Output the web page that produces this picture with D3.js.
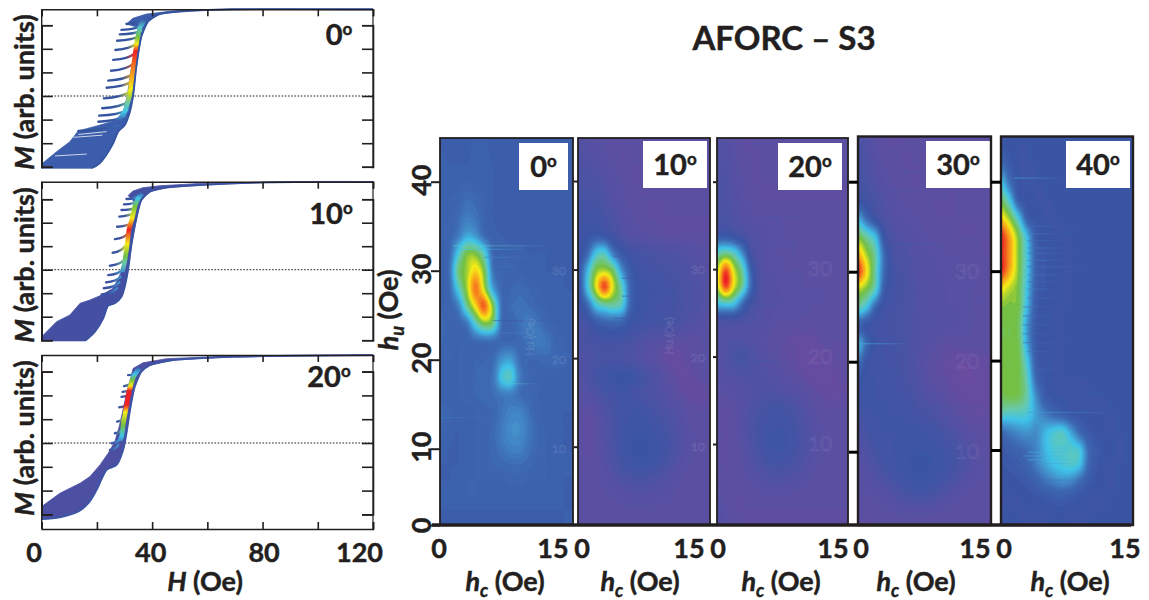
<!DOCTYPE html>
<html>
<head>
<meta charset="utf-8">
<script src="https://cdn.jsdelivr.net/npm/d3@7"></script>
<style>
  body { margin: 0; background: #fff; }
  svg { display: block; }
  text { font-family: Lato, "Open Sans", sans-serif; font-weight: 700; fill: #231f20; stroke: #231f20; stroke-width: .45; }
</style>
</head>
<body>
<script>
// ---------- data ----------

// left column: magnetisation curves, H in Oe, M in arbitrary tick units
let angleLabels = ["0", "10", "20"]
let hTicks = [0, 20, 40, 60, 80, 100, 120]
let hLabelled = [0, 40, 80, 120]
let mTicks = [-3, -2, -1, 0, 1, 2, 3]

// right edge of each band (the major branch)
let major0 = [[18,-3.06],[21,-2.85],[25.9,-2],[27.7,-1.51],[30.1,-1.23],[31.8,-.73],[33.1,0],[34.3,1.24],[36.1,2.51],[38.5,3.15],[42.7,3.47],[52.4,3.6],[69,3.67],[120,3.67]]
let major10 = [[15.7,-3.03],[19.3,-2.64],[22.3,-2.07],[24.1,-1.53],[26.5,-1.43],[28.9,-1.15],[30.1,-.72],[31.3,0],[32.5,1.05],[34.3,2.18],[36.1,2.96],[39.2,3.32],[45.2,3.49],[57.2,3.6],[81.3,3.72],[120,3.74]]
let major20 = [[0,-3.2],[6.6,-3.12],[13.3,-2.88],[16.9,-2.53],[19.9,-1.97],[23.5,-1.13],[27.1,-.92],[29.5,-.29],[30.7,.41],[32.2,1.52],[33.7,2.36],[36.1,3],[39.2,3.27],[47.6,3.48],[69.3,3.62],[120,3.69]]

// left edge of each band
let upper0 = [[0,-3.06],[0,-2.88],[5.4,-2.36],[10.2,-1.94],[13.2,-1.48],[19.9,-1.27],[26.6,-1.05],[29.5,-.7],[31,0],[32.5,1.2],[33.8,1.9],[34.8,2.5],[35,2.9],[30.7,3.05],[33,3.29],[37.9,3.47],[47.5,3.6],[69,3.71],[120,3.71]]
let upper10 = [[0,-3.03],[0,-2.85],[5.4,-2.21],[10.2,-1.93],[13.9,-1.43],[17.5,-1.29],[21.7,-1.08],[25.9,-.79],[28.6,-.16],[29.8,.48],[31,1.33],[32.9,2.38],[33.4,2.9],[31.3,3.16],[33.1,3.35],[36.7,3.49],[42.8,3.57],[57.2,3.67],[120,3.76]]
let upper20 = [[0,-2.67],[6.6,-2.11],[13.9,-1.69],[17.5,-1.41],[21.1,-.92],[24.1,-.43],[26.5,.06],[28.1,.69],[29.3,1.31],[30.7,2.08],[32.2,2.71],[33.1,3.13],[36.7,3.37],[45.2,3.54],[69.3,3.66],[120,3.71]]

// hot strip along the steep part: H, M, colour level
let ridge0 = [[28,-1,3],[30,-.7,5],[31.1,-.3,6],[31.8,0,7.5],[32.2,.3,8],[32.6,.7,8.6],[33.2,1.2,9.2],[34,1.9,10],[34.4,2.2,8],[34.8,2.5,7],[35.6,2.9,5.5],[37,3.2,3]]
let ridge10 = [[29.2,-.1,4],[30,.3,6],[30.4,.6,7],[31,1.1,8],[31.6,1.7,10],[32.8,2.2,8],[33.8,2.7,7],[35,3.05,5],[36.4,3.25,3]]
let ridge20 = [[28.4,.1,4],[29,.3,5],[29.5,.75,7],[30.3,1.3,8],[30.8,1.6,10],[31.7,2.2,10],[32.2,2.4,8],[32.8,2.65,7],[33.8,2.9,5],[35.4,3.15,3]]

// reversal branches: tip H, tip M, join H, join M
let stubs0 = [[30.7,3.05,36.1,3.22],[28.9,2.8,36.7,3.01],[28.3,2.61,36.1,2.77],[27.3,2.34,35.5,2.54],[26.7,1.95,34.3,2.23],[25.9,1.53,33.7,1.81],[25.1,1.07,33.4,1.38],[24.1,.65,32.9,.93],[23.5,.35,32.5,.61],[22.5,-.1,31.9,.18],[21.9,-.52,31.3,-.24],[20.8,-.83,31,-.59],[20.5,-1.09,30.1,-.85],[13.3,-1.48,27.7,-1.23]]
let stubs10 = [[30.7,3.01,34.9,3.11],[29.8,2.78,34.6,2.89],[28.9,2.54,33.7,2.61],[28.1,2.26,33.1,2.4],[27.3,1.83,32.2,1.97],[26.5,1.3,31.3,1.55],[25.7,.72,30.5,1.05],[24.7,.17,29.8,.41],[24.1,-.23,29.3,-.01],[23.3,-.54,28.6,-.3],[22.5,-.79,28.1,-.54],[21.7,-1.05,27.3,-.79]]
let stubs20 = [[31.3,2.85,34.1,2.9],[29.8,2.39,33.1,2.57],[29.3,2.15,32.5,2.29],[28.9,1.94,32.2,2.08],[28.1,1.5,31.3,1.66],[27.3,.9,30.5,1.17],[26.5,.41,29.8,.62],[25.3,-.01,28.6,.2],[24.7,-.29,27.7,-.08]]

// white gaps that show through the low part of the 0 deg band
let gaps0 = [[13.3,-1.63,23.5,-1.51],[11.5,-1.75,22,-1.66],[4.8,-2.54,16.3,-2.46]]

// right column: FORC maps, rows run from hu = 44 down to hu = 0 in steps of 2, columns hc = 0..15
let mapLabels = ["0", "10", "20", "30", "40"]
let huTicks = [0, 10, 20, 30, 40]
let hcLabelled = [0, 15]

let grid0 = [
[2.6,2.5,2.5,2.5,2.7,2.7,2.5,2.5,2.5,2.5,2.5,2.5,2.5,2.5,2.5,2.5],
[2.7,2.6,2.6,2.6,2.7,2.7,2.6,2.5,2.5,2.5,2.5,2.5,2.5,2.5,2.5,2.5],
[2.7,2.7,2.7,2.8,2.8,2.7,2.6,2.5,2.5,2.5,2.5,2.5,2.5,2.5,2.5,2.5],
[2.8,2.8,2.9,3.2,3.1,2.8,2.6,2.5,2.5,2.5,2.5,2.5,2.5,2.5,2.5,2.5],
[2.8,2.8,3.1,3.6,3.4,2.9,2.6,2.5,2.5,2.5,2.5,2.5,2.5,2.5,2.5,2.5],
[2.8,2.9,3.5,4.5,4.2,3.1,2.7,2.6,2.5,2.5,2.5,2.5,2.5,2.5,2.5,2.5],
[2.7,3,5.2,7,7,5.6,3,2.8,2.7,2.7,2.6,2.6,2.6,2.5,2.5,2.5],
[2.7,3.2,6.4,7.4,8.4,7,3.4,3,2.9,2.8,2.7,2.7,2.6,2.6,2.6,2.5],
[2.8,3,5.4,7.4,9.4,7.6,4.4,3,3,3.1,3,2.8,2.7,2.7,2.6,2.6],
[2.8,2.9,3.6,6.2,8.2,9.6,7,3.2,3.2,3.3,3.2,3,2.8,2.7,2.7,2.6],
[3.2,2.9,2.9,3.4,5.6,7,6.4,3.2,3,3.3,3.6,3.4,3,2.8,2.7,2.7],
[3,2.9,2.8,2.9,3,3.1,3.1,3,3,3.1,3.3,3.6,3.4,3,2.8,2.7],
[2.8,2.8,2.8,2.9,3,3,3.2,4.2,4.4,3.2,3,3,3.1,3.1,2.9,2.8],
[2.7,2.7,2.8,2.9,3,3.1,3.4,5.3,5.6,3.6,3,2.9,2.8,2.8,2.7,2.7],
[2.7,2.7,2.8,2.9,3,3.1,3.2,3.5,3.6,3.2,3,2.8,2.7,2.7,2.7,2.7],
[3.1,2.9,2.7,2.7,2.8,2.9,3,3.4,3.8,3.8,3.3,2.9,2.7,2.7,2.6,2.6],
[2.9,2.7,2.6,2.7,2.8,2.9,3.1,3.6,4,4,3.5,3,2.8,2.7,2.6,2.6],
[2.7,2.6,2.6,2.7,2.8,2.9,3.1,3.4,3.7,3.7,3.3,3,2.8,2.7,2.6,2.6],
[2.6,2.6,2.6,2.7,2.8,2.9,3,3.1,3.2,3.2,3.1,2.9,2.8,2.7,2.7,2.6],
[2.6,2.6,2.7,2.8,2.8,2.8,2.8,2.8,2.9,2.9,2.8,2.8,2.8,2.7,2.6,2.6],
[2.6,2.7,2.7,2.8,2.8,2.7,2.7,2.7,2.7,2.7,2.7,2.7,2.7,2.7,2.6,2.6],
[2.6,2.6,2.6,2.6,2.6,2.6,2.6,2.6,2.6,2.6,2.6,2.6,2.6,2.6,2.6,2.6],
[2.6,2.6,2.6,2.6,2.6,2.6,2.6,2.6,2.6,2.6,2.6,2.6,2.6,2.6,2.6,2.6]]

let grid10 = [
[.8,.6,.4,.2,0,0,0,0,0,0,0,0,0,0,0,0],
[1,.9,.7,.4,.2,0,0,0,0,0,0,0,0,0,0,0],
[1.2,1.1,1,.7,.4,.2,0,0,0,0,0,0,0,0,0,0],
[1.4,1.4,1.3,1,.6,.3,.1,0,0,0,0,0,0,0,0,0],
[1.5,1.7,1.7,1.4,1,.6,.3,.1,0,0,0,0,0,0,0,0],
[1.7,2,2.2,2,1.5,.9,.5,.3,.2,.1,0,0,0,0,0,0],
[1.8,2.8,5,5.4,3.4,2.2,1.6,1.4,1.2,1,.9,.8,.7,.5,.4,.3],
[2,4.6,7,7.4,6.6,4,2.4,1.8,1.6,1.5,1.3,1.2,1,.8,.6,.4],
[2,5,7.8,9.8,7.8,5.8,2.8,2,1.8,1.8,1.6,1.4,1.2,1,.8,.6],
[1.8,3,5.2,6,6.2,5.6,2.8,2,1.8,1.6,1.5,1.4,1.2,1,.8,.6],
[1.2,1.6,2.4,2.8,3,2.8,2,1.8,1.6,1.5,1.4,1.3,1,.7,.5,.3],
[1,1.3,1.5,1.6,1.6,1.5,1.3,1,.7,.5,.3,.2,.1,0,.2,.4],
[.8,1,1.2,1.3,1.3,1.2,1,.7,.4,.1,-.3,-.5,-.3,0,.2,.4],
[.6,1,1.5,1.8,2,2.1,2,1.6,1.2,.8,.2,-.2,-.5,-.3,0,.2],
[.4,.6,1,1.4,1.6,1.8,1.6,1.4,1.1,.9,.6,.2,-.2,-.4,-.4,-.2],
[.2,0,.3,.9,1.3,1.6,1.8,1.8,1.6,1.3,1,.7,.3,0,0,.1],
[.2,-.1,.1,.7,1.3,1.7,1.9,2,1.9,1.7,1.4,1,.5,.2,.1,.1],
[.2,-.1,.1,.6,1.2,1.7,2,2.1,2,1.9,1.6,1.1,.6,.3,.1,.1],
[.2,0,.1,.5,1,1.5,1.8,2,1.9,1.7,1.3,.8,.4,.2,.1,.1],
[.2,.1,.1,.3,.6,1,1.2,1.4,1.2,1,.7,.4,.2,.1,.1,.1],
[.1,.1,.1,.2,.3,.4,.6,.7,.6,.5,.4,.2,.1,.1,.1,.1],
[.1,.1,.1,.1,.1,.2,.2,.2,.2,.2,.1,.1,.1,.1,.1,.1],
[0,0,0,0,0,0,0,0,0,0,0,0,0,0,0,0]]

let grid20 = [
[.8,.6,.3,0,0,0,0,0,0,0,0,0,0,0,0,0],
[1,.8,.4,.1,0,0,0,0,0,0,0,0,0,0,0,0],
[1.1,.9,.5,.2,0,0,0,0,0,0,0,0,0,0,0,0],
[1.2,1,.7,.3,.1,0,0,0,0,0,0,0,0,0,0,0],
[1.3,1.2,.9,.6,.4,.2,.2,.2,.1,.1,.1,.1,.1,.1,.1,.1],
[2,2,1.6,1.2,.8,.5,.3,.3,.2,.2,.2,.2,.1,.1,.1,.1],
[5.6,6,5.4,3.6,1.1,.7,.3,.2,.2,.2,.1,.1,.1,.1,.1,0],
[7.6,9.6,7.6,5.8,2.4,.8,.4,.3,.2,.2,.2,.1,.1,.1,.1,.1],
[7.6,9.8,7.8,6,2.8,.9,.5,.4,.3,.3,.2,.2,.2,.1,.1,.1],
[5,5.4,5,3,1.4,.8,.5,.4,.4,.3,.3,.2,.2,.1,.1,.1],
[1.2,1.2,1.1,1,.8,.6,.4,.2,.2,.2,.1,.1,.1,.1,.1,.1],
[.7,.8,.8,.8,.6,.4,.2,0,-.2,-.3,-.3,-.3,-.1,0,0,0],
[.5,.8,1.3,1.5,1,.6,.3,.1,-.2,-.4,-.6,-.6,-.5,-.3,-.1,0],
[.4,.6,.8,.9,.9,.9,.7,.5,.2,0,-.3,-.5,-.6,-.5,-.3,-.1],
[.3,.3,.4,.6,.8,.9,1,.9,.7,.5,.2,-.1,-.3,-.4,-.4,-.3],
[.1,-.1,.1,.5,1,1.3,1.5,1.6,1.4,1.1,.7,.3,0,0,0,0],
[.1,-.2,0,.5,1.1,1.5,1.7,1.8,1.7,1.4,1,.5,.2,.1,.1,.1],
[.1,-.2,0,.4,1,1.5,1.8,1.9,1.8,1.5,1,.6,.3,.1,.1,.1],
[.1,-.1,0,.3,.8,1.2,1.5,1.6,1.5,1.2,.8,.4,.2,.1,.1,.1],
[.2,0,0,.1,.4,.7,.9,1,.9,.7,.5,.2,.1,.1,.1,.1],
[.3,.1,0,0,.1,.2,.3,.3,.3,.2,.1,.1,.1,.1,.1,.1],
[.6,.2,0,0,0,0,0,0,0,0,0,0,0,0,0,0],
[.8,.4,.1,0,0,0,0,0,0,0,0,0,0,0,0,0]]

let grid30 = [
[1.2,.8,.3,0,0,0,0,0,0,0,0,0,0,0,0,0],
[1.4,1,.5,.2,.1,0,0,0,0,0,0,0,0,0,0,0],
[1.6,1.2,.8,.4,.2,.1,0,0,.1,.1,0,0,0,0,0,0],
[2,1.6,1.2,.7,.4,.2,.1,0,0,0,0,0,0,0,0,0],
[4.6,3,1.7,1,.6,.4,.3,.2,.1,0,0,0,0,0,0,0],
[7,6,4.8,1.9,1,.7,.5,.3,.2,.1,.1,0,0,0,0,0],
[8.8,7.4,6,3,1.3,1,.7,.5,.4,.3,.2,.2,.1,.1,0,0],
[10,8.2,6,3,1.6,1.2,.9,.6,.5,.4,.3,.3,.2,.2,.1,.1],
[7.6,7,5.6,2.4,1.6,1.3,1,.7,.6,.5,.4,.3,.3,.2,.2,.1],
[6,5,2.8,1.7,1.5,1.2,1,.7,.6,.5,.4,.4,.3,.2,.2,.1],
[2.8,2,1.7,1.5,1.3,1.2,1,.8,.7,.6,.5,.4,.3,.2,.1,.1],
[5,3,1.8,1.6,1.5,1.3,1,.8,.5,.2,0,0,.1,.1,.1,.1],
[3.5,2,1.7,1.6,1.5,1.3,1,.6,.2,0,-.3,-.5,-.6,-.5,-.4,-.3],
[2.2,1.9,1.8,1.7,1.6,1.4,1.1,.8,.3,0,-.2,-.5,-.6,-.6,-.5,-.4],
[2,1.9,1.8,1.8,1.7,1.6,1.4,1.1,.8,.5,.1,-.2,-.4,-.5,-.5,-.4],
[1.5,1.7,1.8,1.8,1.8,1.8,1.7,1.5,1.3,1,.7,.3,0,-.2,-.2,-.2],
[1,1.4,1.7,1.8,1.8,1.9,1.9,1.9,1.8,1.6,1.3,1,.5,.2,0,0],
[.6,1,1.4,1.7,1.8,1.9,2,2,2,1.9,1.7,1.4,1,.5,.2,.1],
[.4,.7,1.1,1.5,1.7,1.9,2,2,2,1.9,1.7,1.4,1,.5,.2,.1],
[.3,.4,.7,1,1.4,1.7,1.9,2,1.9,1.7,1.4,1,.6,.3,.2,.1],
[.2,.2,.3,.5,.8,1.1,1.3,1.4,1.3,1,.7,.4,.2,.1,.1,.1],
[.1,0,.1,.2,.3,.4,.4,.4,.4,.3,.2,.1,.1,.1,.1,.1],
[.1,0,0,.1,.1,.1,.1,.1,.1,.1,.1,.1,.1,.1,.1,.1]]

let grid40 = [
[2.2,2.1,2,2,2,2,2,2,2,2,2,2,2,2,2,2],
[3.2,2.4,2,2,2,2,2,2,2,2,2,2,2,2,2,2],
[5.2,3.2,2.1,2,2,2,2,2,2,2,2,2,2,2,2,2],
[6.8,5.2,2.4,2.1,2,2,2,2,2,2,2,2,2,2,2,2],
[8.4,7.2,5.2,2.5,2.1,2,2,2,2,2,2,2,2,2,2,2],
[10,8.8,7,4.8,2.4,2.1,2,2,2,2,2,2,2,2,2,2],
[10,9,7.2,5.2,2.6,2.2,2.1,2,2,2,2,2,2,2,2,2],
[10,8.8,7.2,5.2,2.7,2.2,2.1,2,2,2,2,2,2,2,2,2],
[8.2,7.6,7,5,2.6,2.2,2.1,2,2,2,2,2,2,2,2,2],
[7.2,7.1,7,4.8,2.4,2.1,2,2,2,2,2,2,2,2,2,2],
[7,7,6.8,4.2,2.3,2.1,2,2,2,2,2,2,2,2,2,2],
[7,7,6.9,4.4,2.3,2.1,2,2,2,2,2,2,2,2,2,2],
[7,7,7,5.2,2.5,2.1,2,2,2,2,2,2,2,2,2,2],
[7,7,7,5.8,3,2.2,2,2,2,2,2,2,2,2,2,2],
[6.9,7,6.9,6,4,2.5,2.1,2,2,2,2,2,2,2,2,2],
[5.8,5.6,5.6,5.4,4.4,3.6,3,2.6,2.2,2.1,2,2,2,2,2,2],
[3.2,3.6,4,4.2,4,4.8,5.4,5.6,4.4,3,2.3,2.1,2,2,2,2],
[2.4,2.6,2.9,3.2,3.8,4.8,5.4,5.5,5.6,5.2,3,2.3,2.1,2,2,2],
[2.2,2.3,2.5,2.9,3.6,4.4,5,5.3,5.5,5,2.9,2.2,2,2,2,2],
[2.1,2.1,2.2,2.4,2.8,3.4,3.9,4.2,4,3.2,2.4,2.1,2,2,2,2],
[2,2,2,2.1,2.2,2.4,2.6,2.7,2.5,2.2,2,2,2,2,2,2],
[2,2,2,2,2,2,2.1,2.1,2,2,2,2,2,2,2,2],
[2,2,2,2,2,2,2,2,2,2,2,2,2,2,2,2]]

// thin horizontal streaks in each map: hu, hc start, hc end, colour level
let streaks0 = [[32.8,1.5,13,5.6],[32.4,2,10,5],[31.5,5,11,3.6],[30.5,6,11,3.2],[24.4,6,15,1.6],[23,7,13,3.6],[17.3,7,11,5.4],[13.5,0,6,3.4]]
let streaks10 = [[38,7,13,.9],[32.7,4,14,1.8],[31.5,4,13,1.6],[29,5,14,.8],[27,5,12,2.2],[24.5,4,14,2],[16.5,6,12,.2]]
let streaks20 = [[36,5,15,1.2],[35,5,14,1],[33,2,14,1.6],[29,4,12,1.1],[26,3,10,1.8],[19.5,4,9,2]]
let streaks30 = [[41,5,12,1.4],[39,3,10,1.3],[33,3,14,2.2],[31.5,4,12,1.7],[28,3,10,1.7],[25.5,2,12,1.8],[22,.5,6,4.5],[15,5,13,1.4],[10,8,14,1.3]]
let streaks40 = [[40.4,1.5,7,4.4],[35,3,9,3],[34.2,3,7,3.4],[33.4,3,8,3],[32.6,3,7,3.6],[32,3,9,3.2],[31.2,3,8,3.4],[30.5,3,10,3.2],[29.6,3,7,3.4],[28.8,3,8,3],[28,3,6,3.4],[27,3,8,2.9],[26,2.5,6,3.2],[25,2.5,7,3],[24,2.5,7,3],[23,2.5,6,3],[22,2.5,8,2.9],[21,3,6,3.1],[19,3.5,7,3],[14.2,3,13,4.2],[9.7,3,9,4.6],[9.2,2.5,8,4.4],[8.7,3,9,4.6],[8.2,4,9,4.3],[6,4,11,3]]

// ---------- layout ----------

let width = 1149
let height = 600
let ink = "#231f20"

let svg = d3.select("body")
            .append("svg")
            .attr("width", width)
            .attr("height", height)

let heat = d3.scaleLinear()
             .domain([-1, 0, 1, 2, 3, 4, 5, 6, 7, 8, 9, 10])
             .range(["#6c4a9f", "#5b4fa2", "#4c52a4", "#3b55a5", "#3d69b2", "#4390cb", "#3fc3e9", "#6ac9a9", "#74c044", "#f6eb16", "#f7941d", "#ee2024"])
             .clamp(true)

let defs = svg.append("defs")

let fancyLabel = (sel, x, y, main, sub, unit, anchor, rotate) => {
    let t = sel.append("text")
               .attr("font-size", 27)
               .attr("text-anchor", anchor || "middle")
    if (rotate) t.attr("transform", "translate(" + x + "," + y + ") rotate(-90)")
    else t.attr("x", x).attr("y", y)
    t.append("tspan").attr("font-style", "italic").text(main)
    if (sub) {
        t.append("tspan").attr("font-style", "italic").attr("font-size", 18).attr("dy", 6).text(sub)
        t.append("tspan").attr("dy", -6).text(" " + unit)
    } else {
        t.append("tspan").text(" " + unit)
    }
    return t
}

let angleText = (sel, x, y, angle) => {
    let t = sel.append("text")
               .attr("x", x)
               .attr("y", y)
               .attr("font-size", 29)
               .attr("text-anchor", "middle")
    t.append("tspan").text(angle)
    t.append("tspan").attr("font-size", 17).attr("dy", -10).text("o")
}

svg.append("text")
   .attr("x", 784)
   .attr("y", 50)
   .attr("font-size", 33)
   .attr("text-anchor", "middle")
   .text("AFORC \u2013 S3")

// ---------- left column ----------

let hScale = d3.scaleLinear().domain([0, 120]).range([41.7, 373])

let curvePanels = [
    {major: major0, upper: upper0, ridge: ridge0, stubs: stubs0, gaps: gaps0, fade: 55, top: 9.3, bottom: 168.5, zero: 96, unit: 23.6, band: "#3b5dab", stub: "#35549f", labelY: 92, angleX: 339, angleY: 45},
    {major: major10, upper: upper10, ridge: ridge10, stubs: stubs10, gaps: [], fade: 40, top: 181.7, bottom: 341.5, zero: 269.7, unit: 23.5, band: "#4650a3", stub: "#3a52a2", labelY: 265, angleX: 331, angleY: 224},
    {major: major20, upper: upper20, ridge: ridge20, stubs: stubs20, gaps: [], fade: 10, top: 355, bottom: 529, zero: 443, unit: 23.8, band: "#4d4fa3", stub: "#3b55a5", labelY: 438, angleX: 329, angleY: 387}
]

curvePanels.forEach((p, i) => {
    let mScale = d3.scaleLinear().domain([-3, 3]).range([p.zero + 3 * p.unit, p.zero - 3 * p.unit])
    let g = svg.append("g")
    let line = d3.line().x(d => hScale(d[0])).y(d => mScale(d[1]))

    let clipId = "curve-clip-" + i
    defs.append("clipPath").attr("id", clipId)
        .append("rect")
        .attr("x", hScale(0)).attr("y", p.top - 1)
        .attr("width", hScale(120) - hScale(0)).attr("height", p.bottom - p.top + 2)
    let inner = g.append("g").attr("clip-path", "url(#" + clipId + ")")

    // reference line at M = 0
    inner.append("line")
         .attr("x1", hScale(0)).attr("x2", hScale(120))
         .attr("y1", mScale(0)).attr("y2", mScale(0))
         .attr("stroke", ink).attr("stroke-width", 1)
         .attr("stroke-dasharray", "1.6,1.6")

    // the band of curves
    inner.append("path")
         .attr("d", line(p.upper.concat(p.major.slice().reverse())) + "Z")
         .attr("fill", p.band)
         .attr("stroke", p.band)
         .attr("stroke-width", .8)

    inner.selectAll(".gap")
         .data(p.gaps)
         .enter()
         .append("line")
         .attr("x1", d => hScale(d[0])).attr("y1", d => mScale(d[1]))
         .attr("x2", d => hScale(d[2])).attr("y2", d => mScale(d[3]))
         .attr("stroke", "#fff").attr("stroke-width", 1).attr("opacity", .75)

    // level of the hot strip at a given M
    let levelAt = d3.scaleLinear().domain(p.ridge.map(d => d[1])).range(p.ridge.map(d => d[2])).clamp(true)

    // reversal branches, dark at the tip and hot where they join the strip
    p.stubs.forEach((s, j) => {
        let id = "stub-" + i + "-" + j
        let x0 = hScale(s[0]), y0 = mScale(s[1]), x1 = hScale(s[2]), y1 = mScale(s[3])
        let grad = defs.append("linearGradient")
                       .attr("id", id)
                       .attr("gradientUnits", "userSpaceOnUse")
                       .attr("x1", x0).attr("y1", 0)
                       .attr("x2", x1).attr("y2", 0)
        let hot = levelAt(s[3])
        grad.append("stop").attr("offset", "0%").attr("stop-color", p.stub)
        grad.append("stop").attr("offset", p.fade + "%").attr("stop-color", p.stub)
        grad.append("stop").attr("offset", "100%").attr("stop-color", heat(hot))
        // the branches bend up only close to the band
        let bend = d3.path()
        bend.moveTo(x0, y0)
        bend.quadraticCurveTo(x0 + (x1 - x0) * .7, y0 + (y1 - y0) * .15, x1, y1)
        inner.append("path")
             .attr("d", bend.toString())
             .attr("fill", "none")
             .attr("stroke", "url(#" + id + ")")
             .attr("stroke-width", 2.4)
             .attr("stroke-linecap", "round")
    })

    // hot strip
    let ridgeId = "ridge-" + i
    let ridgeGrad = defs.append("linearGradient")
                        .attr("id", ridgeId)
                        .attr("gradientUnits", "userSpaceOnUse")
                        .attr("x1", 0).attr("x2", 0)
                        .attr("y1", mScale(p.ridge[0][1]))
                        .attr("y2", mScale(p.ridge[p.ridge.length - 1][1]))
    let mSpan = d3.scaleLinear().domain([p.ridge[0][1], p.ridge[p.ridge.length - 1][1]]).range([0, 100])
    p.ridge.forEach(d => {
        ridgeGrad.append("stop").attr("offset", mSpan(d[1]) + "%").attr("stop-color", heat(d[2]))
    })
    inner.append("path")
         .attr("d", line.curve(d3.curveCatmullRom)(p.ridge))
         .attr("fill", "none")
         .attr("stroke", "url(#" + ridgeId + ")")
         .attr("stroke-width", 4.6)
    line.curve(d3.curveLinear)

    // major branch over the strip
    inner.append("path")
         .attr("d", line.curve(d3.curveCatmullRom)(p.major))
         .attr("fill", "none")
         .attr("stroke", p.stub)
         .attr("stroke-width", 1.8)
    line.curve(d3.curveLinear)

    // frame and ticks
    let left = g.append("g")
                .attr("transform", "translate(" + hScale(0) + ",0)")
                .call(d3.axisLeft(mScale).tickValues(mTicks).tickSize(-11).tickFormat(""))
    let right = g.append("g")
                 .attr("transform", "translate(" + hScale(120) + ",0)")
                 .call(d3.axisRight(mScale).tickValues(mTicks).tickSize(-11).tickFormat(""))
    let top = g.append("g")
               .attr("transform", "translate(0," + p.top + ")")
               .call(d3.axisTop(hScale).tickValues(hTicks).tickSize(-7).tickFormat(""))
    let axes = [left, right, top]

    if (i == 2) {
        let bottom = g.append("g")
                      .attr("transform", "translate(0," + p.bottom + ")")
                      .call(d3.axisBottom(hScale)
                              .tickValues(hTicks)
                              .tickSize(-7)
                              .tickPadding(14)
                              .tickFormat(d => hLabelled.includes(d) ? d : ""))
        bottom.selectAll("text")
              .attr("font-size", 27)
              .attr("dx", d => d == 0 ? -8 : d == 120 ? -14 : d == 80 ? 1 : -2)
        axes.push(bottom)
    }
    axes.forEach(a => {
        a.attr("font-family", null)
        a.selectAll("path.domain").attr("stroke", ink).attr("stroke-width", 1.6)
        a.selectAll("line").attr("stroke", ink).attr("stroke-width", 1.6)
    })

    // axes only span the ticks, so close the sides of the frame by hand
    g.append("line")
     .attr("x1", hScale(0)).attr("x2", hScale(0)).attr("y1", p.top).attr("y2", p.bottom)
     .attr("stroke", ink).attr("stroke-width", 1.4)
    g.append("line")
     .attr("x1", hScale(120)).attr("x2", hScale(120)).attr("y1", p.top).attr("y2", p.bottom)
     .attr("stroke", ink).attr("stroke-width", 1.2)

    let m = svg.append("text")
               .attr("font-size", 27)
               .attr("text-anchor", "middle")
               .attr("transform", "translate(34," + p.labelY + ") rotate(-90)")
    m.append("tspan").attr("font-style", "italic").text("M")
    m.append("tspan").text(" (arb. units)")

    angleText(svg, p.angleX, p.angleY, angleLabels[i])
})

fancyLabel(svg, 205, 591, "H", null, "(Oe)")

// ---------- right column ----------

let mapPanels = [
    {grid: grid0, streaks: streaks0, left: 440, right: 573, top: 138, y10: 448.7, y40: 181.7, boxX: 519, boxW: 49, boxY: 143, boxH: 47, zeroX: 439, fifteenX: 553, labelX: 505, ghostX: 559, ghostSize: 12, ghostU: true},
    {grid: grid10, streaks: streaks10, left: 578, right: 710, top: 138, y10: 446.7, y40: 181, boxX: 643, boxW: 64, boxY: 141, boxH: 47, zeroX: 582, fifteenX: 689, labelX: 640, ghostX: 698, ghostSize: 12, ghostU: true},
    {grid: grid20, streaks: streaks20, left: 717, right: 848, top: 138, y10: 444, y40: 181.7, boxX: 778, boxW: 64, boxY: 143, boxH: 47, zeroX: 718, fifteenX: 833, labelX: 781, ghostX: 820, ghostSize: 21, ghostU: false},
    {grid: grid30, streaks: streaks30, left: 858, right: 991, top: 136.5, y10: 451.7, y40: 181.7, boxX: 926, boxW: 64, boxY: 141, boxH: 47, zeroX: 861, fifteenX: 975, labelX: 916, ghostX: 967, ghostSize: 21, ghostU: false},
    {grid: grid40, streaks: streaks40, left: 1001, right: 1133, top: 136.5, y10: 450, y40: 181.7, boxX: 1066, boxW: 64, boxY: 141, boxH: 47, zeroX: 1004, fifteenX: 1125, labelX: 1070, ghostX: 0, ghostSize: 0, ghostU: false}
]

let mapBottom = 525
let upsample = 4

// smooth a grid through its values so the contours come out round
let catmull = (a, b, c, d, t) => 0.5 * (2 * b + (c - a) * t + (2 * a - 5 * b + 4 * c - d) * t * t + (3 * b - a - 3 * c + d) * t * t * t)

let refine = (rows) => {
    let padded = [rows[0]].concat(rows)        // one more row so the map reaches the top edge
    let nr = padded.length, nc = padded[0].length
    let cols = (nc - 1) * upsample + 1, lines = (nr - 1) * upsample + 1
    let out = new Array(cols * lines)
    let at = (r, c) => padded[Math.max(0, Math.min(nr - 1, r))][Math.max(0, Math.min(nc - 1, c))]
    for (let j = 0; j < lines; j++) {
        let r = Math.floor(j / upsample), tr = j / upsample - r
        for (let i = 0; i < cols; i++) {
            let c = Math.floor(i / upsample), tc = i / upsample - c
            let col = [-1, 0, 1, 2].map(dr => catmull(at(r + dr, c - 1), at(r + dr, c), at(r + dr, c + 1), at(r + dr, c + 2), tc))
            out[j * cols + i] = catmull(col[0], col[1], col[2], col[3], tr)
        }
    }
    return {values: out, cols: cols, lines: lines}
}

let thresholds = d3.range(-1, 10.05, 0.2)

mapPanels.forEach((p, i) => {
    let xScale = d3.scaleLinear().domain([0, 15]).range([p.left, p.right])
    let unit = (p.y10 - p.y40) / 30
    let yScale = d3.scaleLinear().domain([0, 10, 46]).range([mapBottom, p.y10, p.y40 - 6 * unit])

    let clipId = "map-clip-" + i
    defs.append("clipPath").attr("id", clipId)
        .append("rect")
        .attr("x", p.left).attr("y", p.top)
        .attr("width", p.right - p.left).attr("height", mapBottom - p.top)

    let g = svg.append("g").attr("clip-path", "url(#" + clipId + ")")
    let fine = refine(p.grid)

    // contour coordinates are grid cells, walk them back to hc and hu
    let toScreen = d3.geoTransform({
        point: function (x, y) {
            let hc = (x - 0.5) / upsample
            let hu = 46 - 2 * (y - 0.5) / upsample
            this.stream.point(xScale(hc), yScale(hu))
        }
    })
    let path = d3.geoPath(toScreen)

    g.selectAll("path")
     .data(d3.contours().size([fine.cols, fine.lines]).thresholds(thresholds)(fine.values))
     .enter()
     .append("path")
     .attr("d", path)
     .attr("fill", d => heat(d.value))

    // streaks fade out to the right
    p.streaks.forEach((s, j) => {
        let id = "streak-" + i + "-" + j
        let grad = defs.append("linearGradient")
                       .attr("id", id)
                       .attr("gradientUnits", "userSpaceOnUse")
                       .attr("x1", xScale(s[1])).attr("y1", 0)
                       .attr("x2", xScale(s[2])).attr("y2", 0)
        grad.append("stop").attr("offset", "0%").attr("stop-color", heat(s[3])).attr("stop-opacity", .55)
        grad.append("stop").attr("offset", "40%").attr("stop-color", heat(s[3])).attr("stop-opacity", .4)
        grad.append("stop").attr("offset", "100%").attr("stop-color", heat(s[3])).attr("stop-opacity", 0)
        g.append("rect")
         .attr("x", xScale(s[1]))
         .attr("y", yScale(s[0]) - .6)
         .attr("width", xScale(s[2]) - xScale(s[1]))
         .attr("height", 1.2)
         .attr("fill", "url(#" + id + ")")
    })

    // the faint numbers left behind inside the maps
    if (p.ghostSize) {
        [10, 20, 30].forEach(v => {
            g.append("text")
             .attr("x", p.ghostX)
             .attr("y", yScale(v))
             .attr("dy", "0.35em")
             .attr("text-anchor", "middle")
             .attr("font-size", p.ghostSize)
             .attr("style", "fill:none;stroke:#fff;stroke-opacity:.12;stroke-width:.7;font-weight:400")
             .text(v)
        })
    }
    if (p.ghostU) {
        g.append("text")
         .attr("transform", "translate(" + (p.ghostX - 25) + "," + yScale(22.5) + ") rotate(-90)")
         .attr("text-anchor", "middle")
         .attr("font-size", 11)
         .attr("style", "fill:none;stroke:#fff;stroke-opacity:.12;stroke-width:.6;font-weight:400")
         .text("Hu (Oe)")
    }

    // label box
    svg.append("rect")
       .attr("x", p.boxX).attr("y", p.boxY)
       .attr("width", p.boxW).attr("height", p.boxH)
       .attr("fill", "#fff")
    angleText(svg, p.boxX + p.boxW / 2, p.boxY + 34, mapLabels[i])

    // frame
    svg.append("rect")
       .attr("x", p.left).attr("y", p.top)
       .attr("width", p.right - p.left).attr("height", mapBottom - p.top)
       .attr("fill", "none").attr("stroke", ink).attr("stroke-width", i > 2 ? 2.4 : 1.8)

    // ticks on the left of each map, labels only on the first
    let tickLen = i == 0 ? 9 : i == 3 ? 9 : i == 4 ? 10 : 4
    let axis = svg.append("g")
                  .attr("transform", "translate(" + p.left + ",0)")
                  .call(d3.axisLeft(yScale)
                          .tickValues(i == 0 ? huTicks : huTicks.slice(1))
                          .tickSize(tickLen)
                          .tickSizeOuter(0)
                          .tickPadding(0)
                          .tickFormat(d => i == 0 ? d : ""))
    axis.attr("font-family", null)
    axis.select("path.domain").remove()
    axis.selectAll("line").attr("stroke", i > 2 ? "#000" : ink).attr("stroke-width", i > 2 ? 3 : 2)
    if (i == 0) {
        axis.selectAll("text")
            .attr("font-size", 27)
            .attr("x", null)
            .attr("y", null)
            .attr("dy", null)
            .attr("text-anchor", "middle")
            .attr("transform", d => "translate(-16,0) rotate(-90) translate(" + (d == 0 ? 0 : 2) + ",0)")
            .attr("dominant-baseline", "middle")
    }

    // 0 and 15 under each map
    svg.selectAll(null)
       .data(hcLabelled)
       .enter()
       .append("text")
       .attr("x", d => d == 0 ? p.zeroX : p.fifteenX)
       .attr("y", 558)
       .attr("font-size", 27)
       .attr("text-anchor", "middle")
       .text(d => d)

    fancyLabel(svg, p.labelX, 591, "h", "c", "(Oe)")
})

// heavy base line under all the maps
svg.append("line")
   .attr("x1", 432).attr("x2", 1131)
   .attr("y1", mapBottom).attr("y2", mapBottom)
   .attr("stroke", ink).attr("stroke-width", 3.6)

fancyLabel(svg, 398, 310, "h", "u", "(Oe)", "middle", true)
</script>
</body>
</html>
